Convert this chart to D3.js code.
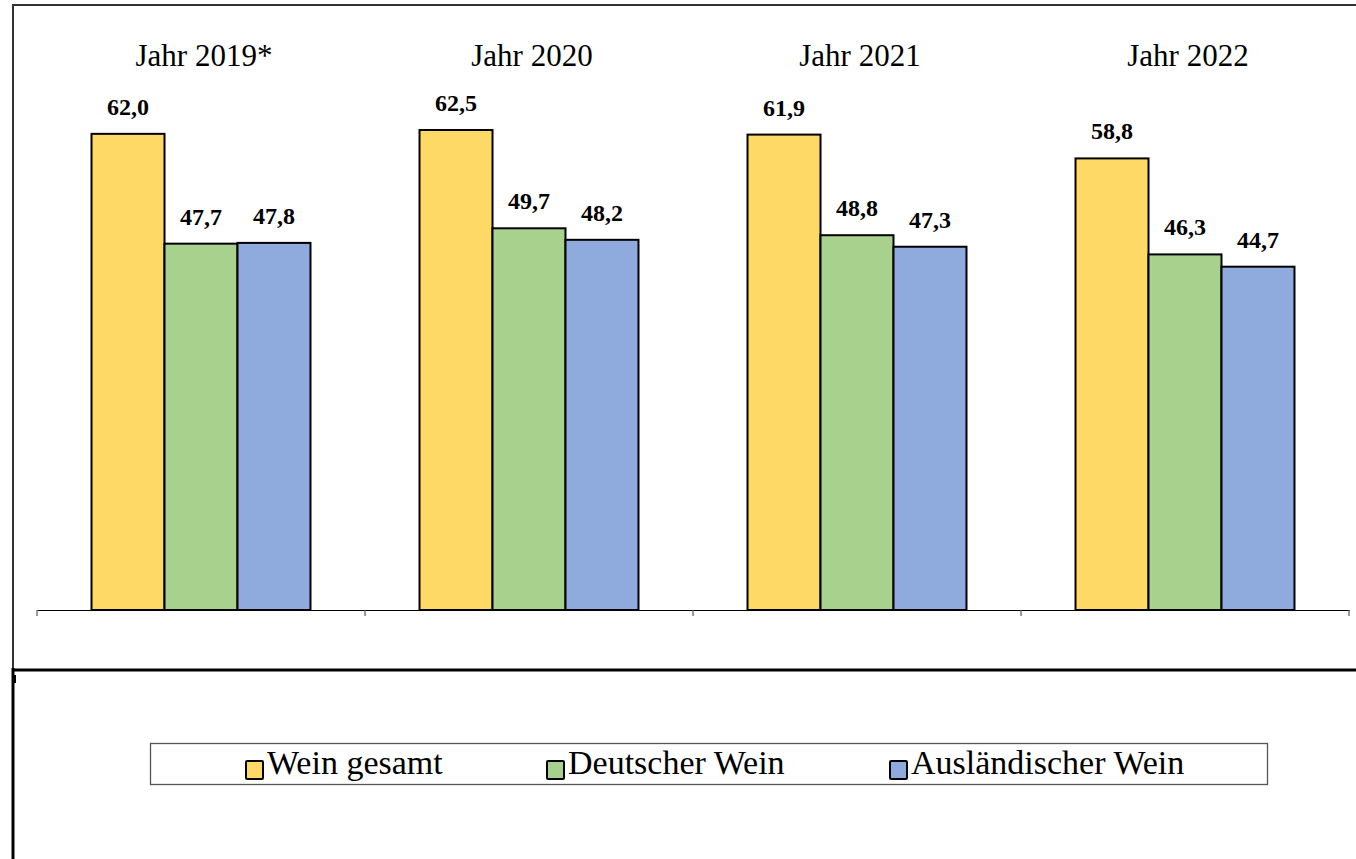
<!DOCTYPE html>
<html>
<head>
<meta charset="utf-8">
<script src="https://cdn.jsdelivr.net/npm/d3@7"></script>
<style>
  html, body { margin: 0; padding: 0; background: #fff; }
  svg { display: block; }
  text { font-family: "Liberation Serif", "Times New Roman", serif; fill: #000; }
</style>
</head>
<body>
<svg id="chart" width="1356" height="859"></svg>
<script>
// Wine consumption per year, split into total, German and foreign wine
const years = ["Jahr 2019*", "Jahr 2020", "Jahr 2021", "Jahr 2022"];
const series = ["Wein gesamt", "Deutscher Wein", "Ausländischer Wein"];
const weinGesamt = [62.0, 62.5, 61.9, 58.8];
const deutscherWein = [47.7, 49.7, 48.8, 46.3];
const auslaendischerWein = [47.8, 48.2, 47.3, 44.7];
const colors = ["#FFD966", "#A9D18E", "#8FAADC"];

const values = [weinGesamt, deutscherWein, auslaendischerWein];
const rows = years.map((y, i) => ({
  year: y,
  items: series.map((s, j) => ({ series: s, value: values[j][i], color: colors[j] }))
}));

const svg = d3.select("#chart");

// Chart frame
svg.append("line").attr("x1", 13).attr("x2", 1356).attr("y1", 5).attr("y2", 5)
  .attr("stroke", "#333").attr("stroke-width", 2);
svg.append("line").attr("x1", 13).attr("x2", 13).attr("y1", 4).attr("y2", 670)
  .attr("stroke", "#333").attr("stroke-width", 2);
svg.append("line").attr("x1", 13).attr("x2", 13).attr("y1", 668).attr("y2", 859)
  .attr("stroke", "#000").attr("stroke-width", 3);
svg.append("line").attr("x1", 12).attr("x2", 1356).attr("y1", 670).attr("y2", 670)
  .attr("stroke", "#000").attr("stroke-width", 3);
svg.append("rect").attr("x", 12).attr("y", 675).attr("width", 4).attr("height", 8).attr("fill", "#000");

// Scales
const x0 = d3.scaleBand().domain(years).range([37, 1349]).padding(0);
const x1 = d3.scaleBand().domain(series).range([0, x0.bandwidth()])
  .paddingInner(0).paddingOuter(0.747);
const y = d3.scaleLinear().domain([0, 70]).range([610, 610 - 70 * 7.68]);

const fmt = d3.formatLocale({ decimal: ",", thousands: ".", grouping: [3], currency: ["", " €"] }).format(".1f");

// Bars
const groups = svg.append("g").selectAll("g").data(rows).join("g")
  .attr("transform", d => `translate(${x0(d.year)},0)`);

groups.selectAll("rect").data(d => d.items).join("rect")
  .attr("x", d => x1(d.series))
  .attr("y", d => y(d.value))
  .attr("width", x1.bandwidth())
  .attr("height", d => y(0) - y(d.value))
  .attr("fill", d => d.color)
  .attr("stroke", "#000")
  .attr("stroke-width", 2);

// Value labels
groups.selectAll("text.val").data(d => d.items).join("text")
  .attr("class", "val")
  .attr("x", d => x1(d.series) + x1.bandwidth() / 2)
  .attr("y", d => y(d.value) - 19)
  .attr("text-anchor", "middle")
  .attr("font-size", 24)
  .attr("font-weight", "bold")
  .text(d => fmt(d.value));

// Year titles
svg.append("g").selectAll("text").data(years).join("text")
  .attr("x", d => x0(d) + x0.bandwidth() / 2 + 3)
  .attr("y", 66)
  .attr("text-anchor", "middle")
  .attr("font-size", 31)
  .text(d => d);

// Category axis
const axis = svg.append("g").attr("transform", "translate(0,610)")
  .call(d3.axisBottom(x0).tickSize(0).tickFormat(""));
axis.select(".domain").attr("stroke", "#000").attr("stroke-width", 1.2);
axis.append("g").selectAll("line").data(years.concat([null])).join("line")
  .attr("x1", (d, i) => i < years.length ? x0(d) : x0.range()[1])
  .attr("x2", (d, i) => i < years.length ? x0(d) : x0.range()[1])
  .attr("y1", 0).attr("y2", 6)
  .attr("stroke", "#555").attr("stroke-width", 1.2);

// Legend
const legend = svg.append("g");
legend.append("rect").attr("x", 150.5).attr("y", 743.5).attr("width", 1117).attr("height", 41)
  .attr("fill", "#fff").attr("stroke", "#555").attr("stroke-width", 1.3);
const legendX = [245, 546, 889];
const items = legend.selectAll("g.item").data(series).join("g")
  .attr("class", "item")
  .attr("transform", (d, i) => `translate(${legendX[i]},0)`);
items.append("rect").attr("x", 1).attr("y", 761).attr("width", 17).attr("height", 18)
  .attr("fill", (d, i) => colors[i]).attr("stroke", "#000").attr("stroke-width", 2).attr("rx", 1);
items.append("text").attr("x", 22).attr("y", 774).attr("font-size", 34).text(d => d);
</script>
</body>
</html>
